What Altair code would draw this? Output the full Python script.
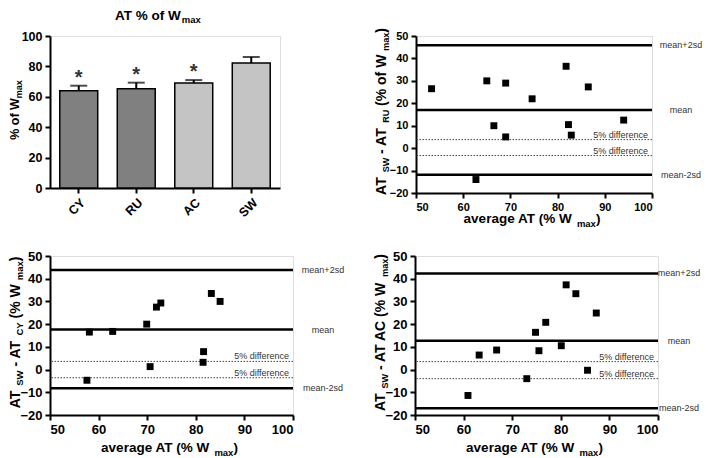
import altair as alt
import pandas as pd

FONT = "Liberation Sans"

# ---- bar chart data ----
groups = ["CY", "RU", "AC", "SW"]
bar_means = [64.0, 65.3, 69.0, 82.2]
bar_err = [3.3, 4.0, 2.0, 4.0]
bar_colors = ["#808080", "#808080", "#c4c4c4", "#c4c4c4"]
stars = ["*", "*", "*", ""]

# ---- Bland-Altman: SW vs RU ----
ru_avg = [53.3, 65.0, 69.0, 66.5, 69.0, 74.6, 81.8, 82.3, 82.9, 86.5, 94.0, 62.7]
ru_diff = [26.5, 30.0, 29.0, 10.0, 5.0, 22.0, 36.5, 10.5, 5.8, 27.3, 12.5, -14.0]
ru_lines = [45.9, 17.0, -11.9]
ru_five = [3.8, -3.3]

# ---- SW vs CY ----
cy_avg = [58.1, 62.9, 57.6, 69.9, 70.6, 71.9, 72.8, 81.6, 81.5, 83.2, 85.0]
cy_diff = [16.5, 16.8, -4.7, 20.0, 1.3, 27.5, 29.3, 7.9, 3.2, 33.5, 30.0]
cy_lines = [43.8, 17.6, -8.2]
cy_five = [3.6, -3.6]

# ---- SW vs AC ----
ac_avg = [60.9, 63.2, 66.8, 73.0, 74.8, 75.5, 76.9, 80.1, 81.1, 83.1, 85.5, 87.3]
ac_diff = [-11.4, 6.4, 8.6, -4.0, 16.4, 8.3, 20.8, 10.5, 37.3, 33.4, -0.3, 24.9]
ac_lines = [42.3, 12.7, -17.0]
ac_five = [3.5, -4.0]

line_labels = ["mean+2sd", "mean", "mean-2sd"]
five_labels = ["5% difference", "5% difference"]

# approximate advance widths (Arial/Liberation Sans Bold, per 1000 em)
ADV = {"A": 722, "T": 611, " ": 278, "S": 667, "W": 944, "-": 333, "R": 722,
       "U": 722, "C": 722, "Y": 667, "(": 333, ")": 333, "%": 889, "o": 611,
       "f": 333, "m": 889, "a": 556, "x": 556, "v": 556, "e": 556, "r": 389,
       "g": 611}
ONE = alt.Data(values=[{"k": 1}])


def tw(s, size):
    return sum(ADV.get(ch, 556) for ch in s) * size / 1000.0


def rich_title(segs, pos, center, big, small, shift, vertical):
    """segs: list of (text, is_small). Builds a run of bold text marks."""
    total = sum(tw(t, small if s else big) for t, s in segs)
    cur = center + total / 2 if vertical else center - total / 2
    out = []
    for t, s in segs:
        fs = small if s else big
        lead = len(t) - len(t.lstrip(" "))
        core = t.strip(" ")
        trail = len(t) - len(t.rstrip(" "))
        step = tw(" " * lead, fs)
        cur = cur - step if vertical else cur + step
        off = shift if s else 0
        if vertical:
            enc = dict(x=alt.value(pos + off), y=alt.value(cur))
        else:
            enc = dict(x=alt.value(cur), y=alt.value(pos + off))
        out.append(alt.Chart(ONE).mark_text(
            text=core, font=FONT, fontSize=fs, fontWeight="bold", align="left",
            baseline="alphabetic", color="black", angle=270 if vertical else 0).encode(**enc))
        step = tw(core, fs) + tw(" " * trail, fs)
        cur = cur - step if vertical else cur + step
    return out


def axis(values, fs, angle=0):
    kw = dict(title=None, grid=False, domainColor="black",
              domainWidth=2, tickColor="black", tickWidth=2, tickSize=5,
              labelFont=FONT, labelFontWeight="bold", labelFontSize=fs,
              labelColor="black", labelAngle=angle, labelPadding=3,
              labelOverlap=False)
    if values is not None:
        kw["values"] = values
    return alt.Axis(**kw)


# ---- bar panel ----
BW, BH = 230, 152
bdf = pd.DataFrame({"g": groups, "m": bar_means, "e": bar_err,
                    "top": [m + e for m, e in zip(bar_means, bar_err)],
                    "c": bar_colors, "s": stars})
xsc_b = alt.Scale(paddingInner=0.34, paddingOuter=0.17)
xax_b = axis(None, 12.5, angle=-45)
ysc_b = alt.Scale(domain=[0, 100], nice=False)
yax_b = axis([0, 20, 40, 60, 80, 100], 12.5)


def bx():
    return alt.X("g:N", sort=groups, scale=xsc_b, axis=xax_b)


bars = alt.Chart(bdf).mark_bar(stroke="black", strokeWidth=1.5).encode(
    x=bx(), y=alt.Y("m:Q", scale=ysc_b, axis=yax_b),
    color=alt.Color("c:N", scale=None))
err = alt.Chart(bdf).mark_rule(color="black", strokeWidth=2).encode(
    x=bx(), y=alt.Y("m:Q", scale=ysc_b, axis=yax_b), y2="top:Q")
cap = alt.Chart(bdf).mark_tick(color="black", thickness=2, size=17, orient="horizontal").encode(
    x=bx(), y=alt.Y("top:Q", scale=ysc_b, axis=yax_b))
star = alt.Chart(bdf).mark_text(font=FONT, fontSize=20, fontWeight="bold", color="#333",
                                baseline="middle", dy=-8).encode(
    x=bx(), y=alt.Y("top:Q", scale=ysc_b, axis=yax_b), text="s:N")
bar_title = rich_title([("AT % of W", False), ("max", True)], -16, 108, 13.5, 9.5, 3, False)
bar_ytitle = rich_title([("% of W", False), ("max", True)], -31, BH / 2 - 2, 12.5, 9, 3, True)
bar_panel = alt.layer(bars, err, cap, star, *bar_title, *bar_ytitle).properties(width=BW, height=BH)


def bland(avg, diff, lines, five, ysegs, w, h, fs, ytx, ybig, ysmall, lab_off, xt_dy):
    pts = pd.DataFrame({"avg": avg, "diff": diff})
    ln = pd.DataFrame({"y": lines, "label": line_labels})
    fv = pd.DataFrame({"y": five, "label": five_labels})
    xs = alt.Scale(domain=[50, 100], nice=False, zero=False)
    ys = alt.Scale(domain=[-20, 50], nice=False)
    xax = axis([50, 60, 70, 80, 90, 100], fs)
    yax = axis([-20, -10, 0, 10, 20, 30, 40, 50], fs)
    rules = alt.Chart(ln).mark_rule(color="black", strokeWidth=2.5).encode(
        y=alt.Y("y:Q", scale=ys, axis=yax))
    dots = alt.Chart(fv).mark_rule(color="#444", strokeWidth=1, strokeDash=[1.5, 1.5]).encode(
        y=alt.Y("y:Q", scale=ys, axis=yax))
    points = alt.Chart(pts).mark_square(size=48, color="black", opacity=1).encode(
        x=alt.X("avg:Q", scale=xs, axis=xax),
        y=alt.Y("diff:Q", scale=ys, axis=yax))
    rlab = alt.Chart(ln).mark_text(font=FONT, fontSize=9, color="#333", align="center",
                                   baseline="middle").encode(
        y=alt.Y("y:Q", scale=ys, axis=yax), x=alt.value(w + lab_off), text="label:N")
    dlab = alt.Chart(fv).mark_text(font=FONT, fontSize=9, color="#333", align="right",
                                   baseline="alphabetic", dy=-2).encode(
        y=alt.Y("y:Q", scale=ys, axis=yax), x=alt.value(w - 4), text="label:N")
    xt = rich_title([("average AT (% W ", False), ("max", True), (")", False)],
                    h + xt_dy, w / 2 - 2, 13.5, 9.5, 4, False)
    yt = rich_title(ysegs, ytx, h / 2 - 3, ybig, ysmall, 3, True)
    return alt.layer(rules, dots, points, rlab, dlab, *xt, *yt).properties(width=w, height=h)


ru_panel = bland(ru_avg, ru_diff, ru_lines, ru_five,
                 [("AT ", False), ("SW", True), (" - AT ", False), ("RU", True),
                  (" (% of W ", False), ("max", True), (")", False)],
                 236, 157, 11, -30, 14, 9, 29, 30)
cy_panel = bland(cy_avg, cy_diff, cy_lines, cy_five,
                 [("AT ", False), ("SW", True), (" - AT ", False), ("CY", True),
                  (" (% W ", False), ("max", True), (")", False)],
                 243, 159, 13, -30, 14, 9.5, 30, 37)
ac_panel = bland(ac_avg, ac_diff, ac_lines, ac_five,
                 [("AT ", False), ("SW", True), (" - AT AC (% W ", False),
                  ("max", True), (")", False)],
                 243, 159, 13, -30, 14, 9, 21, 37)

chart = alt.vconcat(
    alt.hconcat(bar_panel, ru_panel, spacing=93),
    alt.hconcat(cy_panel, ac_panel, spacing=28),
    spacing=20,
).properties(padding={"left": 0, "top": 0, "right": 0, "bottom": 0}).configure_view(
    stroke=None).configure(background="white")

chart.save("out.html", embed_options={"renderer": "svg", "actions": False})
